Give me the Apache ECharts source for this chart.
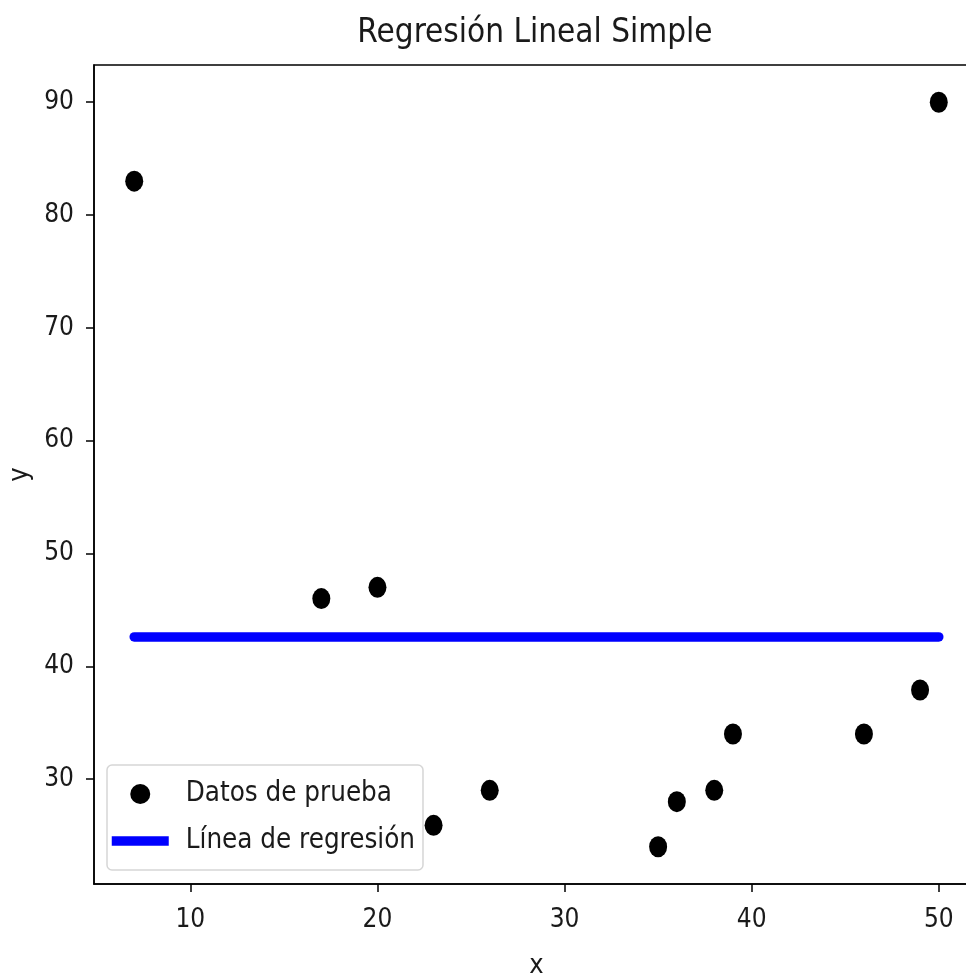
<!DOCTYPE html>
<html>
<head>
<meta charset="utf-8">
<script src="https://cdn.jsdelivr.net/npm/echarts@6/dist/echarts.min.js"></script>
<style>html,body{margin:0;padding:0;background:#fff;overflow:hidden;width:966px;height:975px;}#c{width:980px;height:975px;}</style>
</head>
<body>
<div id="c"></div>
<script>
// ---- data ----
const titleText = 'Regresión Lineal Simple';
const xName = 'x';
const yName = 'y';
const scatterName = 'Datos de prueba';
const lineName = 'Línea de regresión';
const testX = [7, 17, 20, 23, 26, 35, 36, 38, 39, 46, 49, 50];
const testY = [83, 46, 47, 25.9, 29, 24, 28, 29, 34, 34, 37.9, 90];
const lineX = [7, 50];
const lineY = [42.6, 42.6];
const xTicks = [10, 20, 30, 40, 50];
const yTicks = [30, 40, 50, 60, 70, 80, 90];

const FONT = "'DejaVu Sans Condensed', 'Liberation Sans Narrow', 'DejaVu Sans', sans-serif";
const TXT = '#1a1a1a';

const chart = echarts.init(document.getElementById('c'), null, {renderer: 'canvas'});
chart.setOption({
  animation: false,
  backgroundColor: '#ffffff',
  title: {
    text: titleText, left: 530, top: 12, textAlign: 'center',
    textStyle: {fontFamily: FONT, fontSize: 33, fontWeight: 'normal', color: TXT}
  },
  legend: {
    orient: 'vertical', left: 107, top: 765,
    padding: [15, 8, 15, 0],
    itemWidth: 57, itemHeight: 20, itemGap: 19,
    backgroundColor: 'rgba(255,255,255,0.8)',
    borderColor: '#d6d6d6', borderWidth: 1.5, borderRadius: 5,
    lineStyle: {width: 9.5, cap: 'butt'},
    textStyle: {fontFamily: FONT, fontSize: 27.5, color: TXT, padding: [0, 0, 0, 12]},
    data: [
      {name: scatterName, icon: 'circle'},
      {name: lineName, itemStyle: {opacity: 0}}
    ]
  },
  grid: {left: 94, top: 65, right: 1, bottom: 91, outerBoundsMode: 'none', containLabel: false,
    show: true, borderColor: '#000', borderWidth: 1.5, backgroundColor: 'transparent'},
  xAxis: {
    type: 'value', min: 4.85, max: 52.15,
    name: xName, nameLocation: 'middle', nameGap: 68,
    nameTextStyle: {fontFamily: FONT, fontSize: 27, color: TXT},
    axisLine: {show: true, onZero: false, lineStyle: {color: '#000', width: 1.5}},
    axisTick: {show: true, length: 8, lineStyle: {color: '#000', width: 1.5}, customValues: xTicks},
    axisLabel: {margin: 23, fontFamily: FONT, fontSize: 26, color: TXT, customValues: xTicks},
    splitLine: {show: false}
  },
  yAxis: {
    type: 'value', min: 20.7, max: 93.3,
    name: yName, nameLocation: 'middle', nameGap: 58, nameRotate: 90,
    nameTextStyle: {fontFamily: FONT, fontSize: 27, color: TXT},
    axisLine: {show: true, onZero: false, lineStyle: {color: '#000', width: 1.5}},
    axisTick: {show: true, length: 8, lineStyle: {color: '#000', width: 1.5}, customValues: yTicks},
    axisLabel: {margin: 20, fontFamily: FONT, fontSize: 26, color: TXT, customValues: yTicks},
    splitLine: {show: false}
  },
  series: [
    {
      name: scatterName, type: 'scatter', z: 3,
      symbol: 'circle', symbolSize: [18, 21],
      itemStyle: {color: '#000', opacity: 1},
      data: testX.map((x, i) => [x, testY[i]])
    },
    {
      name: lineName, type: 'line', z: 2,
      symbol: 'none', showSymbol: false,
      lineStyle: {color: '#0000ff', width: 9.5, cap: 'round'},
      itemStyle: {color: '#0000ff'},
      data: lineX.map((x, i) => [x, lineY[i]])
    }
  ]
});
</script>
</body>
</html>
